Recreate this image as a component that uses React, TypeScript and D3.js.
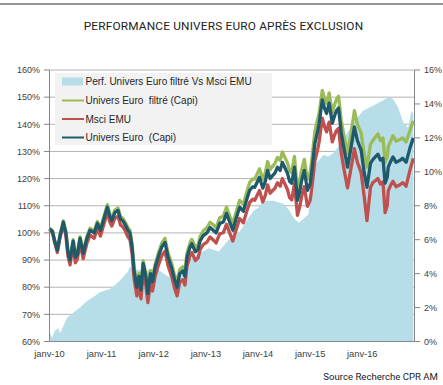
import React from 'react';
import * as d3 from 'd3';

const lineDates = [
  '2010-01-01','2010-01-22','2010-02-06','2010-02-25','2010-03-16','2010-04-08','2010-04-26','2010-05-10','2010-05-25','2010-06-09',
  '2010-06-16','2010-07-01','2010-07-15','2010-08-03','2010-08-25','2010-09-20','2010-10-12','2010-11-10','2010-12-02','2010-12-24',
  '2011-01-16','2011-02-10','2011-02-28','2011-03-13','2011-04-04','2011-04-26','2011-05-14','2011-05-28','2011-06-16','2011-07-04',
  '2011-07-19','2011-08-03','2011-08-17','2011-09-05','2011-09-20','2011-10-04','2011-10-19','2011-11-07','2011-11-21','2011-12-09',
  '2011-12-24','2012-01-11','2012-02-07','2012-02-28','2012-03-20','2012-04-11','2012-05-07','2012-05-25','2012-06-13','2012-07-01',
  '2012-07-23','2012-08-07','2012-08-21','2012-09-13','2012-09-24','2012-10-19','2012-11-07','2012-11-21','2012-12-13','2013-01-08',
  '2013-01-30','2013-02-21','2013-03-13','2013-04-08','2013-05-03','2013-05-25','2013-06-16','2013-07-08','2013-07-30','2013-08-25',
  '2013-09-20','2013-10-12','2013-11-03','2013-11-25','2013-12-09','2014-01-11','2014-02-03','2014-02-21','2014-03-09','2014-03-27',
  '2014-04-11','2014-04-29','2014-05-17','2014-06-05','2014-06-20','2014-07-08','2014-07-26','2014-08-10','2014-08-25','2014-09-13',
  '2014-10-04','2014-10-19','2014-11-03','2014-11-21','2014-12-13','2015-01-01','2015-01-11','2015-02-03','2015-02-21','2015-03-05',
  '2015-03-27','2015-04-11','2015-04-26','2015-05-14','2015-06-05','2015-06-20','2015-07-04','2015-07-19','2015-08-07','2015-08-28',
  '2015-09-20','2015-10-15','2015-11-07','2015-11-28','2015-12-24','2016-01-15','2016-02-03','2016-02-28','2016-03-15','2016-04-01',
  '2016-04-20','2016-05-07','2016-05-25','2016-06-09','2016-06-24','2016-07-01','2016-07-20','2016-08-03','2016-08-25','2016-09-24',
  '2016-10-10','2016-11-03','2016-12-02','2016-12-24'
];

const universEuroCapi = [
  101.5,100.5,97,93.6,99,104,100,93,90,95,
  97,91,92,98,92.5,98,101,100,103.5,101,
  105,109.5,106,104.6,107.5,108.3,105,104.6,103,101,
  100,94.7,86,80,84,79,88.8,84,77.7,85,
  82,87.3,92,95,96.5,91,87,83,80,85,
  86,84,91,95,96,93,94,97,99,100,
  102,101,100,103.5,104,107.2,104,101,105,109.5,
  108,112,115.7,117,116.8,120.5,116.5,119,123,120,
  121,122,124.2,123,126,124,122,119,118.3,124.2,
  112,115,119.4,123,115.7,118,122,133,137,140.4,
  149,146,144,147.8,140.4,143,145,146,136.8,130.5,
  124.2,131.6,139,134,130.5,122,116.8,125.7,127,128,
  129,126.8,127.5,118.3,120.5,124.2,126.5,128,126,126.8,
  127.5,126,131.6,135
];

const universEuroFiltreCapi = [
  101.7,100.8,97.3,94,99.4,104.4,100.4,93.5,90.5,95.5,
  97.5,91.5,92.5,98.6,93.1,98.6,101.7,100.7,104.2,101.7,
  105.8,110.4,106.9,105.5,108.4,109.2,105.9,105.5,103.9,102,
  101,95.7,87,81,85,80,89.8,85,78.8,86.1,
  83.1,88.5,93.3,96.4,98,92.5,88.5,84.5,81.5,86.5,
  87.5,85.5,92.6,96.6,97.6,94.7,95.7,98.7,100.8,101.9,
  103.9,103,102,105.6,106.2,109.5,106.3,103.3,107.4,112,
  110.6,114.7,118.5,119.9,119.8,123.6,119.7,122.2,126.3,123.3,
  124.4,125.5,127.8,126.7,129.8,127.8,125.8,122.8,122.2,128.2,
  115.8,118.9,123.4,127.1,119.8,122.2,126.3,137.4,141.5,144.1,
  152.5,149.6,147.7,151.6,144.3,147,149.2,150.3,141.3,135.2,
  129.3,136.8,145,140,136.8,128.8,124.2,132.7,134,135.2,
  136.5,134,135,126,128,131.8,134,135.8,133.8,134.5,
  135,133.5,138,141.3
];

const msciEmu = [
  101.3,100,96.5,92.8,98.3,103.2,99,91.5,88.2,93.5,
  95.5,89,90.3,96.3,90.5,96.2,99.2,98,101.5,98.8,
  103,107.6,104,102.5,105.4,106.2,102.8,102.4,100.7,98.6,
  97.5,92,83,76.8,80.8,75.7,85.5,80.6,74.3,81.6,
  78.6,84,88.8,91.8,93.2,87.8,83.8,79.8,76.8,81.8,
  82.7,80.8,87.8,91.8,92.8,89.8,90.8,93.8,95.7,96.6,
  98.5,97.4,96.3,99.7,100.1,103.2,100,97,100.9,105.3,
  103.7,107.6,111.2,112.4,112,115.6,111.4,113.8,117.7,114.6,
  115.5,116.4,118.5,117.2,120,118,116,113,112.2,118,
  106.5,109.4,113.6,117,109.8,112,115.8,126.5,130.3,133.6,
  142.3,139.2,137.2,140.8,133.5,135.9,137.7,138.5,129.3,122.9,
  116.6,124,131,126,122.2,113.2,104.5,116.8,118.5,119.2,
  120,118,118.8,107.5,110,115.5,117.8,119,117,117.8,
  118.5,117.2,123.5,127.5
];

const areaDates = [
  '2010-01-01','2010-01-08','2010-01-19','2010-02-06','2010-03-03','2010-03-17','2010-05-04','2010-07-01','2010-08-03','2010-09-24',
  '2010-11-17','2010-12-20','2011-02-28','2011-03-17','2011-05-10','2011-07-01','2011-07-19','2011-08-03','2011-09-27','2011-11-07',
  '2011-12-06','2012-02-07','2012-04-15','2012-06-24','2012-09-06','2012-11-14','2013-01-22','2013-04-01','2013-06-10','2013-08-18',
  '2013-10-27','2013-12-02','2014-01-04','2014-02-10','2014-04-20','2014-06-28','2014-08-03','2014-09-06','2014-10-12','2014-11-14',
  '2014-12-20','2015-01-11','2015-02-13','2015-04-05','2015-05-08','2015-06-12','2015-08-22','2015-10-30','2016-01-07','2016-05-25',
  '2016-07-01','2016-08-03','2016-09-07','2016-10-15','2016-11-17','2016-12-10','2016-12-24'
];

const perfFiltreVsMsci = [
  0,0.5,0.2,0.6,0.8,0.5,1.4,1.8,2.0,2.4,
  2.7,2.9,3.1,3.2,3.6,4.1,4.4,4.3,4.2,4.1,
  4.3,4.2,3.8,4.0,4.8,5.2,5.5,5.3,6.0,6.4,
  7.3,7.7,7.9,8.3,8.3,8.1,7.8,7.3,7.0,7.2,
  7.5,9.1,10.5,11.0,10.9,11.1,11.9,12.9,13.6,14.2,
  14.4,14.3,13.8,12.9,12.6,13.6,13.4
];

const leftTicks = [60, 70, 80, 90, 100, 110, 120, 130, 140, 150, 160];
const rightTicks = [0, 2, 4, 6, 8, 10, 12, 14, 16];
const xTickDates = ['2010-01-01','2011-01-01','2012-01-01','2013-01-01','2014-01-01','2015-01-01','2016-01-01'];
const xTickLabels = ['janv-10','janv-11','janv-12','janv-13','janv-14','janv-15','janv-16'];

const legendLabels = [
  'Perf. Univers Euro filtré Vs Msci EMU',
  'Univers Euro  filtré (Capi)',
  'Msci EMU',
  'Univers Euro  (Capi)'
];

const COLORS = {
  area: '#b7dde8',
  green: '#9bbb59',
  red: '#c0504d',
  teal: '#1f5a6b',
};

export default function App() {
  const W = 443, H = 385;
  const parse = d3.timeParse('%Y-%m-%d');
  const x = d3.scaleTime()
    .domain([new Date(2010, 0, 1), new Date(2017, 0, 1)])
    .range([49.5, 414.5]);
  const yL = d3.scaleLinear().domain([60, 160]).range([341.5, 70]);
  const yR = d3.scaleLinear().domain([0, 16]).range([341.5, 70]);

  const lDates = lineDates.map(d => parse(d) as Date);
  const aDates = areaDates.map(d => parse(d) as Date);

  const area = d3.area<number>()
    .x((_, i) => x(aDates[i]))
    .y0(yR(0))
    .y1(d => yR(d));
  const line = d3.line<number>()
    .x((_, i) => x(lDates[i]))
    .y(d => yL(d));

  const font = "'Liberation Sans', Arial, sans-serif";
  const textCol = '#404040';
  const legendColors = [COLORS.area, COLORS.green, COLORS.red, COLORS.teal];
  const legendY = [81.5, 100.5, 119, 137.5];

  return (
    <svg width={W} height={H} style={{ position: 'absolute', left: 0, top: 0, background: '#fff' }}>
      <rect x={0} y={0} width={W} height={H} fill="#fff" />
      <line x1={0} x2={W} y1={4} y2={4} stroke="#2a2a2a" strokeWidth={1.2} />
      <text x={223.5} y={30} textAnchor="middle" fontFamily="Roboto, sans-serif" fontSize={11.8} fill="#222" letterSpacing={0.2}>
        PERFORMANCE UNIVERS EURO APRÈS EXCLUSION
      </text>

      {leftTicks.map(t => (
        <line key={'g' + t} x1={49.5} x2={414.5} y1={yL(t)} y2={yL(t)} stroke="#b3b3b3" strokeWidth={1} />
      ))}

      <path d={area(perfFiltreVsMsci) || ''} fill={COLORS.area} />

      <path d={line(universEuroFiltreCapi) || ''} fill="none" stroke={COLORS.green} strokeWidth={3.3} strokeLinejoin="round" />
      <path d={line(msciEmu) || ''} fill="none" stroke={COLORS.red} strokeWidth={3.3} strokeLinejoin="round" />
      <path d={line(universEuroCapi) || ''} fill="none" stroke={COLORS.teal} strokeWidth={3.3} strokeLinejoin="round" />

      <line x1={49.5} x2={49.5} y1={70} y2={341.5} stroke="#868686" />
      <line x1={414.5} x2={414.5} y1={70} y2={341.5} stroke="#868686" />
      <line x1={49.5} x2={414.5} y1={341.5} y2={341.5} stroke="#868686" />
      {leftTicks.map(t => (
        <g key={'l' + t}>
          <line x1={44} x2={49.5} y1={yL(t)} y2={yL(t)} stroke="#868686" />
          <text x={40} y={yL(t) + 3.2} textAnchor="end" fontFamily={font} fontSize={9} fill={textCol}>{t}%</text>
        </g>
      ))}
      {rightTicks.map(t => (
        <g key={'r' + t}>
          <line x1={414.5} x2={420} y1={yR(t)} y2={yR(t)} stroke="#868686" />
          <text x={424} y={yR(t) + 3.2} textAnchor="start" fontFamily={font} fontSize={9} fill={textCol}>{t}%</text>
        </g>
      ))}
      {xTickDates.map((d, i) => (
        <text key={'x' + d} x={x(parse(d) as Date)} y={357} textAnchor="middle" fontFamily={font} fontSize={9.3} fill={textCol}>
          {xTickLabels[i]}
        </text>
      ))}

      <rect x={55} y={73} width={217} height={72} fill="#f2f2f2" />
      {legendLabels.map((lab, i) => (
        <g key={'lg' + i}>
          {i === 0 ? (
            <rect x={62} y={legendY[i] - 4} width={21} height={8} fill={legendColors[i]} />
          ) : (
            <line x1={62} x2={84} y1={legendY[i]} y2={legendY[i]} stroke={legendColors[i]} strokeWidth={2} />
          )}
          <text x={85.5} y={legendY[i] + 3.6} fontFamily={font} fontSize={10} fill="#262626" style={{ whiteSpace: 'pre' }}>{lab}</text>
        </g>
      ))}

      <text x={438} y={380} textAnchor="end" fontFamily="Roboto, sans-serif" fontSize={9.6} fill="#222">
        Source Recherche CPR AM
      </text>
    </svg>
  );
}
